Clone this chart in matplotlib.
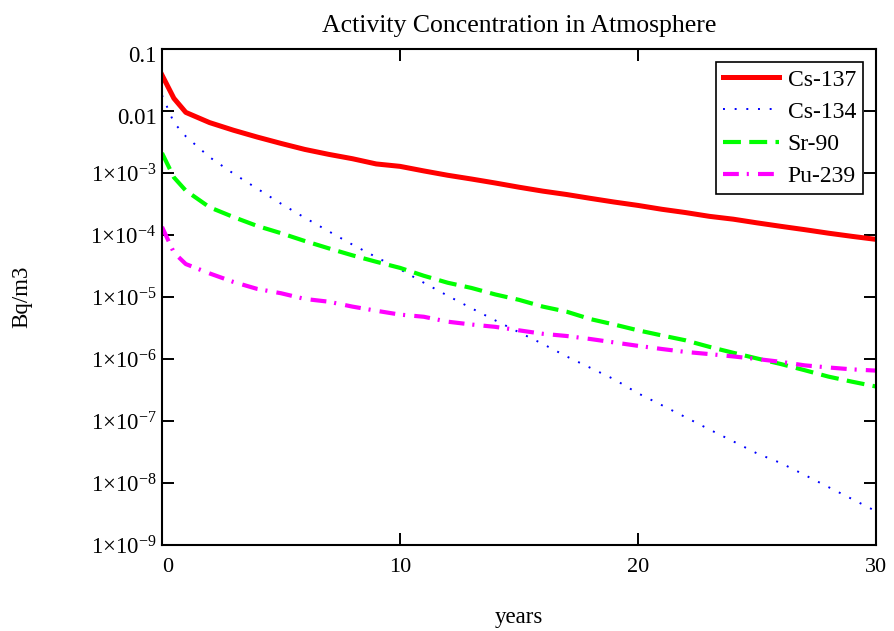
import numpy as np
import matplotlib
matplotlib.use("Agg")
import matplotlib.pyplot as plt
import matplotlib.transforms as mtransforms
from matplotlib.ticker import FixedLocator, FixedFormatter

plt.rcParams['font.family'] = ['Liberation Serif', 'DejaVu Serif']
plt.rcParams['mathtext.fontset'] = 'custom'
plt.rcParams['mathtext.rm'] = 'Liberation Serif'
plt.rcParams['mathtext.it'] = 'Liberation Serif:italic'

# time in years after release
years = [0, 0.5, 1, 2, 3, 4, 5, 6, 7, 8, 9, 10, 11, 12, 13, 14, 15,
         16, 17, 18, 19, 20, 21, 22, 23, 24, 25, 26, 27, 28, 29, 30]

# activity concentrations, Bq/m3
cs137 = [0.038, 0.016, 0.0095, 0.0065, 0.0049, 0.0038, 0.0030, 0.0024,
         0.0020, 0.0017, 0.0014, 0.00128, 0.00108, 0.00092, 0.00080,
         0.00069, 0.00059, 0.00051, 0.00045, 0.00039, 0.00034, 0.00030,
         0.00026, 0.00023, 0.00020, 0.000180, 0.000157, 0.000138,
         0.000122, 0.000107, 0.000095, 0.000085]
cs134 = [0.018, 6.5e-3, 3.9e-3, 1.8e-3, 9.8e-4, 5.6e-4, 3.2e-4, 1.9e-4,
         1.15e-4, 7.0e-5, 4.4e-5, 2.8e-5, 1.7e-5, 1.05e-5, 6.6e-6, 4.2e-6,
         2.7e-6, 1.75e-6, 1.1e-6, 7.2e-7, 4.7e-7, 2.8e-7, 1.8e-7, 1.15e-7,
         7.3e-8, 4.7e-8, 3.0e-8, 2.1e-8, 1.35e-8, 8.6e-9, 5.5e-9, 3.5e-9]
sr90 = [2.1e-3, 8.5e-4, 5.2e-4, 2.8e-4, 1.95e-4, 1.4e-4, 1.07e-4, 8.0e-5,
        6.1e-5, 4.7e-5, 3.7e-5, 2.95e-5, 2.2e-5, 1.7e-5, 1.4e-5, 1.1e-5,
        9.0e-6, 7.0e-6, 5.8e-6, 4.4e-6, 3.6e-6, 2.9e-6, 2.4e-6, 2.0e-6,
        1.57e-6, 1.26e-6, 1.02e-6, 8.3e-7, 6.6e-7, 5.2e-7, 4.3e-7, 3.6e-7]
pu239 = [1.35e-4, 5.2e-5, 3.4e-5, 2.4e-5, 1.75e-5, 1.35e-5, 1.15e-5, 9.3e-6,
         8.4e-6, 7.0e-6, 6.0e-6, 5.2e-6, 4.8e-6, 4.0e-6, 3.6e-6, 3.3e-6,
         2.9e-6, 2.55e-6, 2.35e-6, 2.1e-6, 1.85e-6, 1.63e-6, 1.45e-6, 1.3e-6,
         1.2e-6, 1.1e-6, 1.0e-6, 9.0e-7, 7.9e-7, 7.3e-7, 6.8e-7, 6.5e-7]

ytick_vals = [1e-9, 1e-8, 1e-7, 1e-6, 1e-5, 1e-4, 1e-3, 1e-2, 1e-1]
ytick_labels = ['1×10$^{-9}$', '1×10$^{-8}$', '1×10$^{-7}$',
                '1×10$^{-6}$', '1×10$^{-5}$', '1×10$^{-4}$',
                '1×10$^{-3}$', '0.01', '0.1']
xtick_vals = [0, 10, 20, 30]

fig = plt.figure(figsize=(8.95, 6.31), dpi=100)
ax = fig.add_axes([162 / 895, 1 - 545 / 631, 714 / 895, 496 / 631])

ax.plot(years, cs137, color='#ff0000', lw=3.6, ls='-', label='Cs-137')
ax.plot(years, cs134, color='#0000ff', lw=1.4, ls=(0, (1, 5)), label='Cs-134')
ax.plot(years, sr90, color='#00ff00', lw=3.0, ls=(0, (4.3, 2.0)), label='Sr-90')
ax.plot(years, pu239, color='#ff00ff', lw=3.0, ls=(0, (3.8, 1.9, 0.5, 2.2)),
        label='Pu-239')

ax.set_yscale('log')
ax.set_ylim(1e-9, 0.1)
ax.set_xlim(0, 30)
ax.yaxis.set_major_locator(FixedLocator(ytick_vals))
ax.yaxis.set_major_formatter(FixedFormatter(ytick_labels))
ax.yaxis.set_minor_locator(FixedLocator([]))
ax.xaxis.set_major_locator(FixedLocator(xtick_vals))
ax.tick_params(direction='in', length=8.5, width=1.4, labelsize=16,
               top=True, right=True, colors='black')
ax.tick_params(axis='y', pad=4, labelsize=16.5)
ax.tick_params(axis='x', pad=9)
ax.get_xticklabels()[0].set_horizontalalignment('left')

# plain decimal labels sit a little below their ticks
shift = mtransforms.ScaledTranslation(0, -0.05, fig.dpi_scale_trans)
for lab in ax.get_yticklabels()[-2:]:
    lab.set_transform(lab.get_transform() + shift)

for s in ax.spines.values():
    s.set_linewidth(1.5)

ax.set_title('Activity Concentration in Atmosphere', fontsize=18.5, pad=12)
ax.set_ylabel('Bq/m3', fontsize=16.5)
ax.yaxis.set_label_coords(-0.181, 0.5)
ax.set_xlabel('years', fontsize=16.5)
ax.xaxis.set_label_coords(0.5, -0.124)

leg = ax.legend(loc='upper right', fontsize=17, handlelength=2.37,
                borderaxespad=0.55, fancybox=False, framealpha=1,
                edgecolor='black', labelspacing=0.45, handletextpad=0.35,
                borderpad=0.3)
leg.get_frame().set_linewidth(1.2)

fig.savefig('out.png', dpi=100)
